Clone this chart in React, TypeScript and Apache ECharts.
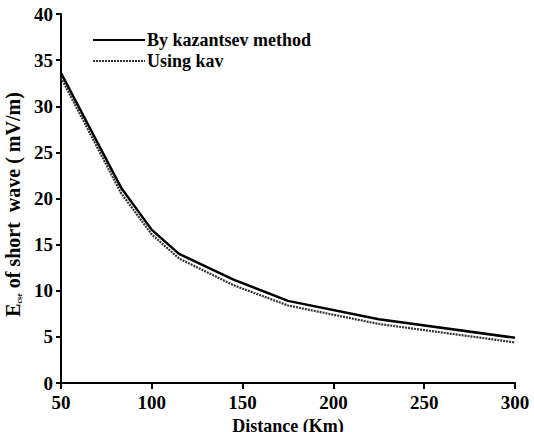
import React, { useEffect, useRef } from "react";
import * as echarts from "echarts";

const distances = [50, 83, 100, 115, 145, 175, 225, 300];
const kazantsev = [33.6, 21.2, 16.6, 14.0, 11.2, 8.9, 6.9, 4.9];
const usingKav = [33.1, 20.6, 16.1, 13.5, 10.6, 8.4, 6.4, 4.4];
const seriesNames = ["By kazantsev method", "Using kav"];

const FONT = "'Liberation Serif', 'Times New Roman', Times, serif";

export default function App() {
  const ref = useRef<HTMLDivElement>(null);
  useEffect(() => {
    if (!ref.current) return;
    const chart = echarts.init(ref.current, undefined, { renderer: "svg" });
    chart.setOption({
      animation: false,
      backgroundColor: "#fff",
      textStyle: { fontFamily: FONT },
      grid: { left: 61, right: 19, top: 14, bottom: 49, outerBoundsMode: "none", containLabel: false },
      legend: {
        orient: "vertical",
        left: 92,
        top: 31,
        padding: 0,
        itemWidth: 52,
        itemHeight: 10,
        itemGap: 3,
        data: seriesNames,
        itemStyle: { opacity: 0 },
        textStyle: { fontFamily: FONT, fontSize: 18, fontWeight: "bold", color: "#000", padding: [0, 0, 0, -3] },
      },
      xAxis: {
        type: "value",
        min: 50,
        max: 300,
        interval: 50,
        name: "Distance (Km)",
        nameLocation: "middle",
        nameGap: 21,
        nameTextStyle: { fontFamily: FONT, fontSize: 18, fontWeight: "bold", color: "#000" },
        axisLine: { show: true, onZero: false, lineStyle: { color: "#000", width: 2 } },
        axisTick: { show: true, inside: false, length: 6, lineStyle: { color: "#000", width: 2 } },
        axisLabel: { fontFamily: FONT, fontSize: 19, fontWeight: "bold", color: "#000", margin: 10 },
        splitLine: { show: false },
      },
      yAxis: {
        type: "value",
        min: 0,
        max: 40,
        interval: 5,
        name: "{e|E}{sub|cse} of short  wave ( mV/m)",
        nameLocation: "middle",
        nameGap: 38,
        nameTextStyle: {
          fontFamily: FONT,
          fontSize: 20,
          fontWeight: "bold",
          color: "#000",
          padding: [0, 12, 0, 0],
          rich: {
            e: { fontFamily: FONT, fontSize: 20, fontWeight: "bold", color: "#000" },
            sub: { fontFamily: FONT, fontSize: 8, fontWeight: "bold", color: "#000", verticalAlign: "bottom", padding: [11, 0, 0, 0] },
          },
        },
        axisLine: { show: true, lineStyle: { color: "#000", width: 2 } },
        axisTick: { show: true, inside: false, length: 5, lineStyle: { color: "#000", width: 2 } },
        axisLabel: { fontFamily: FONT, fontSize: 19, fontWeight: "bold", color: "#000", margin: 8 },
        splitLine: { show: false },
      },
      series: [
        {
          name: seriesNames[0],
          type: "line",
          symbol: "none",
          data: distances.map((d, i) => [d, kazantsev[i]]),
          lineStyle: { color: "#000", width: 2.5, type: "solid" },
          itemStyle: { color: "#000" },
        },
        {
          name: seriesNames[1],
          type: "line",
          symbol: "none",
          data: distances.map((d, i) => [d, usingKav[i]]),
          lineStyle: { color: "#333", width: 2.2, type: [2, 1] },
          itemStyle: { color: "#333" },
        },
      ],
    });
    return () => chart.dispose();
  }, []);
  return (
    <div
      ref={ref}
      style={{ position: "absolute", left: 0, top: 0, width: 534, height: 432 }}
    />
  );
}
